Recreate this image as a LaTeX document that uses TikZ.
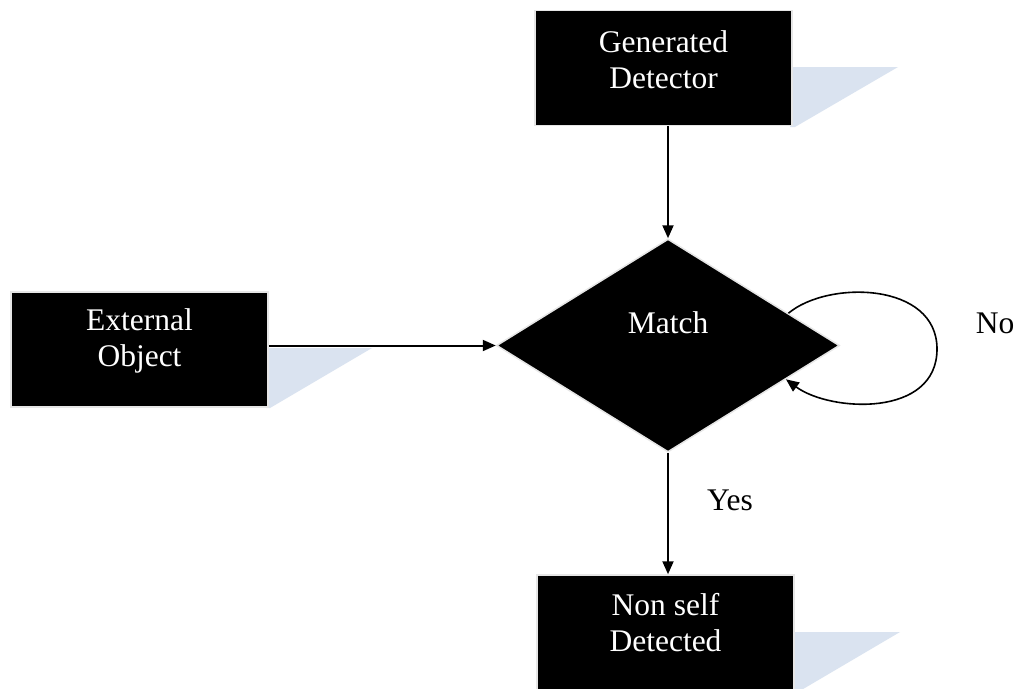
\documentclass[tikz,border=0pt]{standalone}
\usepackage{fontspec}
\setmainfont{Liberation Serif}
\usetikzlibrary{shapes.geometric,arrows.meta}
\definecolor{wedgeblue}{HTML}{DAE3F0}
\definecolor{rim}{HTML}{E6E6E6}
\begin{document}
\begin{tikzpicture}[x=1pt,y=-1pt,
  every node/.style={font=\fontsize{31.5}{36}\selectfont},
  blockbox/.style={rectangle,fill=black,draw=rim,line width=1.5pt,inner sep=0pt,minimum width=257pt,minimum height=115pt},
  blocktext/.style={text=white,align=center,inner sep=0pt},
  decision/.style={diamond,fill=black,draw=rim,line width=1.5pt,inner sep=0pt,minimum width=343pt,minimum height=213pt},
  flow/.style={line width=2pt,-{Triangle[length=13pt,width=11pt]}},
  loopline/.style={line width=1.6pt,-{Triangle[length=13pt,width=11pt]}},
  plain/.style={text=black,inner sep=0pt}]
\clip (0,0) rectangle (1019,688);
\fill[white] (0,0) rectangle (1019,688);

% light wedges behind the boxes
\fill[wedgeblue] (790,67) -- (898,67) -- (795,127) -- (790,127) -- cycle;
\fill[wedgeblue] (266,348) -- (372,348) -- (270,408) -- (266,408) -- cycle;
\fill[wedgeblue] (792,632) -- (900,632) -- (798,692) -- (792,692) -- cycle;

% blocks
\node[blockbox] (gd) at (663.5,68) {};
\node[blocktext] (gdt) at (663.5,60) {Generated\\Detector};
\node[blockbox] (eo) at (139.5,349.5) {};
\node[blocktext] (eot) at (139.5,341) {External\\Object};
\node[blockbox] (ns) at (665.5,632.5) {};
\node[blocktext] (nst) at (665.5,623) {Non self\\Detected};
\node[decision] (m) at (668,345.5) {};
\node[blocktext] (mt) at (668,323) {Match};

% labels
\node[plain] (no) at (995,323) {No};
\node[plain] (yes) at (730,500) {Yes};

% connectors
\draw[flow] (gd.south -| m.north) -- (m.north);
\draw[flow] (eo.east |- m.west) -- (m.west);
\draw[flow] (m.south) -- (ns.north -| m.south);
\draw[loopline] (m.15) .. controls (828,280) and (937,282) .. (937,349)
  .. controls (937,418) and (830,412) .. (m.-16);
\end{tikzpicture}
\end{document}
